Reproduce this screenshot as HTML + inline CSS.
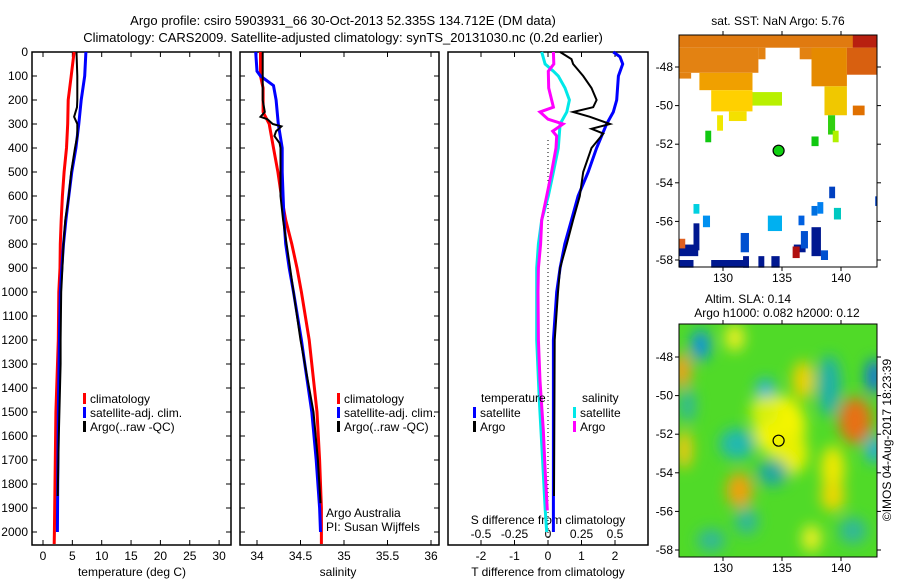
<!DOCTYPE html>
<html><head><meta charset="utf-8"><style>
html,body{margin:0;padding:0;background:#fff;}
svg{display:block;font-family:"Liberation Sans",sans-serif;}
text{font-size:12px;fill:#000;}
</style></head><body>
<svg id="fig" width="900" height="580" viewBox="0 0 900 580">
<text x="343" y="25" text-anchor="middle" style="font-size:13px">Argo profile: csiro 5903931_66 30-Oct-2013 52.335S 134.712E (DM data)</text>
<text x="343" y="42" text-anchor="middle" style="font-size:13px">Climatology: CARS2009. Satellite-adjusted climatology: synTS_20131030.nc (0.2d earlier)</text>
<g id="g1"></g>
<g id="g2"></g>
<g id="g3"></g>
<g id="m1"></g>
<g id="m2"></g>
<text x="778" y="25" text-anchor="middle">sat. SST: NaN Argo: 5.76</text>
<text x="748" y="303" text-anchor="middle">Altim. SLA: 0.14</text>
<text x="777" y="317" text-anchor="middle">Argo h1000: 0.082 h2000: 0.12</text>
<text transform="translate(891,440) rotate(-90)" text-anchor="middle">©IMOS 04-Aug-2017 18:23:39</text>
</svg>
<script>
// ---- data ----
const depthTicks=[0,100,200,300,400,500,600,700,800,900,1000,1100,1200,1300,1400,1500,1600,1700,1800,1900,2000];
const tempTicks=[0,5,10,15,20,25,30];
const salTicks=[34,34.5,35,35.5,36];
const tdiffTicks=[-2,-1,0,1,2];
const sdiffTicks=[-0.5,-0.25,0,0.25,0.5];
const sdiffLabels=["-0.5","-0.25","0","0.25","0.5"];
const tClimD=[0,100,200,300,400,500,600,700,800,900,1000,1200,1500,1800,2000,2050];
const tClimV=[5.3,4.8,4.3,4.2,4.0,3.6,3.3,3.1,2.95,2.9,2.7,2.6,2.2,2.05,1.95,1.9];
const tSatD=[0,100,200,300,400,500,600,700,800,900,1000,1200,1500,1800,2000];
const tSatV=[7.3,7.1,6.5,6.1,5.6,4.9,4.4,3.9,3.5,3.2,2.95,2.8,2.6,2.5,2.45];
const tArgoD=[0,100,200,230,270,300,350,400,500,600,700,800,900,1000,1200,1300,1600,1850];
const tArgoV=[5.7,5.85,5.85,5.8,5.3,5.85,5.85,5.45,4.8,4.4,3.8,3.5,3.3,3.1,3.0,3.0,2.7,2.5];
const sClimD=[0,100,150,250,300,400,500,600,700,800,900,1000,1200,1300,1500,1700,1900,2050];
const sClimV=[34.04,34.04,34.07,34.07,34.14,34.19,34.24,34.28,34.33,34.40,34.46,34.51,34.60,34.63,34.69,34.72,34.74,34.74];
const sSatD=[0,80,100,140,200,300,400,500,600,700,800,900,1000,1200,1300,1500,1700,1900,2000];
const sSatV=[33.985,34.0,34.04,34.19,34.22,34.245,34.29,34.29,34.30,34.31,34.33,34.37,34.42,34.51,34.55,34.63,34.68,34.72,34.73];
const sArgoD=[0,100,200,250,270,280,300,310,330,350,380,400,600,700,800,900,1000,1200,1500,1700,1880];
const sArgoV=[34.065,34.065,34.065,34.09,34.04,34.12,34.18,34.28,34.22,34.2,34.26,34.27,34.27,34.30,34.34,34.38,34.42,34.5,34.65,34.7,34.73];
const dTSatD=[0,20,50,100,200,250,300,350,400,500,600,700,800,900,1000,1200,2000];
const dTSatV=[1.95,2.15,2.23,2.1,2.05,1.95,1.75,1.6,1.45,1.2,0.9,0.7,0.5,0.36,0.26,0.16,0.16];
const dTArgoD=[0,30,50,100,150,200,230,250,270,300,320,340,400,500,600,700,800,900,1000,1200,1850];
const dTArgoV=[0.36,0.7,0.75,1.05,1.3,1.45,1.35,0.75,1.25,1.85,1.3,1.65,1.3,1.05,0.95,0.75,0.56,0.36,0.3,0.2,0.18];
const dSSatD=[0,50,80,100,150,200,250,300,400,500,600,700,800,900,1200,1450,1700,1900,2000];
const dSSatV=[-0.047,-0.022,0.04,0.077,0.127,0.16,0.14,0.09,0.077,0.04,0.002,-0.047,-0.072,-0.084,-0.084,-0.065,-0.04,-0.022,-0.01];
const dSArgoD=[0,50,80,150,230,250,280,300,330,350,400,500,600,700,800,900,1000,1200,1370,1575,1740,1910];
const dSArgoV=[0.04,0.043,0.002,0.005,0.04,-0.06,0.0,0.112,0.035,0.065,0.06,0.027,-0.01,-0.047,-0.055,-0.072,-0.075,-0.072,-0.06,-0.035,-0.022,-0.005];
const lonTicks=[130,135,140];
const latTicks=[-48,-50,-52,-54,-56,-58];
// SST blocks: lon0, lat0, lon1, lat1 (data), colour
const sstLon0=[126.3,126.3,126.3,128,129,130.5,129.5,132.5,137.5,141,138.6,141,128.5,137.5,138.9,139.3,126.3,127.5,126.3,129,131.7,133,134.1,136,137.5,142.9,131.5,136.6,137.5,138.3,136.4,127.5,128.3,133.8,138,139.4,139,135.9,126.3,133,136.5,140.5];
const sstLat0=[-46.34,-47.0,-48.3,-48.3,-49.2,-50.3,-50.5,-49.3,-47,-46.34,-49,-50,-51.3,-51.6,-50.5,-51.3,-57.2,-56.1,-58.0,-58.0,-57.8,-57.8,-57.8,-57.2,-56.3,-54.7,-56.6,-56.5,-55.2,-57.5,-55.7,-55.1,-55.7,-55.7,-55.0,-55.3,-54.2,-57.3,-56.9,-47.0,-47.0,-47.0];
const sstLon1=[143.05,133,127.3,132.5,132.5,132,130,135,140.5,143.05,140.5,142,129,138.1,139.5,139.8,127.9,128,127.5,132.2,132.2,133.5,134.8,137,138.3,143.05,132.2,137.2,138,138.9,136.9,128,128.9,135,138.5,140,139.5,136.5,126.8,133.6,137.5,143.05];
const sstLat1=[-47.0,-48.3,-48.6,-49.2,-50.3,-50.8,-51.3,-50.0,-49,-47.0,-50.5,-50.5,-51.9,-52.1,-51.5,-51.9,-57.8,-57.5,-58.4,-58.4,-58.4,-58.4,-58.4,-57.6,-57.8,-55.2,-57.6,-57.4,-55.7,-58.0,-56.2,-55.6,-56.3,-56.5,-55.6,-55.9,-54.8,-57.9,-57.4,-47.6,-47.6,-48.4];
const sstCol=["#e07a10","#e38212","#e38212","#f0a000","#ffd000","#f4e000","#f0e800","#b8f000","#e58a00","#b82010","#f0c800","#e07000","#10c810","#10c810","#30d010","#b0f000","#001890","#001890","#001890","#001890","#001890","#001890","#001890","#001890","#001890","#0040c0","#0050d0","#0050d0","#0070e0","#0050d0","#0060e0","#00d0e0","#0090f0","#00b0f0","#0080f0","#00c8c0","#0040c0","#b01010","#e06020","#e38212","#e38212","#d86010"];
// SLA blobs: lon, lat, rx(deg), ry(deg), colour
const slaLon=[128.1,126.5,133.6,142.8,142.8,141.2,136.8,134.8,135.8,131.2,139,134.2,127,131.4,126.7,139.3,139.3,132,129,141,131,137.5,133.5];
const slaLat=[-47.4,-48.7,-49.8,-49.0,-52.8,-51.3,-49.2,-51.6,-53,-52.5,-49.5,-54,-50.5,-54.9,-52.8,-53.8,-55.2,-56.5,-57.5,-57,-47,-57.4,-50.8];
const slaRx=[0.8,0.8,0.8,0.7,0.7,1.4,0.9,2.2,1.4,1.5,1.0,1.3,0.7,1.1,0.7,1.0,1.0,1.0,1.2,1.2,0.8,0.8,1.2];
const slaRy=[0.8,0.9,0.7,0.9,0.7,1.2,1.0,1.6,1.1,0.8,1.6,0.7,0.9,0.9,1.0,1.2,0.8,0.7,0.6,0.7,0.7,0.7,0.8];
const slaCol=["#1090e0","#f0a020","#20b0e0","#1070e0","#20a8e8","#e87018","#f0d000","#f4f400","#e8f000","#20b8b0","#20b0a8","#20a8a0","#30b898","#f0a010","#f0c810","#f0e800","#f0d800","#30b898","#30b898","#30b898","#f0f020","#f0f020","#d8f010"];

const NS="http://www.w3.org/2000/svg";
function mk(parent,tag,attrs){const e=document.createElementNS(NS,tag);for(const k in attrs)e.setAttribute(k,attrs[k]);parent.appendChild(e);return e;}
const yD=d=>52+0.24*d;
const xT=t=>43+5.87*t;
const xS=s=>257+87*(s-34);
const xDT=t=>548+33.5*t;
const xDS=s=>548+134*s;

function frame(g,x0,x1,name){
  const r=mk(g,'rect',{x:x0,y:52,width:x1-x0,height:493,fill:'none',stroke:'#000','stroke-width':1.5});
  
  
}
function line(g,D,V,fx,col,w,name){
  const pts=D.map((d,i)=>fx(V[i]).toFixed(1)+','+yD(d).toFixed(1)).join(' ');
  const p=mk(g,'polyline',{points:pts,fill:'none',stroke:col,'stroke-width':w,'stroke-linejoin':'miter'});
  
  
}
function txt(g,x,y,s,anchor,name){
  const t=mk(g,'text',{x:x,y:y,'text-anchor':anchor||'start'});t.textContent=s;
  
  
  return t;
}
const g1=document.getElementById('g1'),g2=document.getElementById('g2'),g3=document.getElementById('g3');
depthTicks.forEach(d=>{
  const y=yD(d);
  txt(g1,28,y+4,String(d),'end','depth-tick-label');
  [[32,37],[226,231],[240,245],[434,439]].forEach(p=>mk(g1,'line',{x1:p[0],x2:p[1],y1:y,y2:y,stroke:'#000'}));
});
frame(g1,32,231,'temperature-plot-frame');
frame(g2,240,439,'salinity-plot-frame');
frame(g3,448,648,'difference-plot-frame');
tempTicks.forEach(v=>{const x=xT(v);mk(g1,'line',{x1:x,x2:x,y1:540,y2:545,stroke:'#000'});mk(g1,'line',{x1:x,x2:x,y1:52,y2:57,stroke:'#000'});txt(g1,x,560,String(v),'middle','temperature-tick-label');});
salTicks.forEach(v=>{const x=xS(v);mk(g2,'line',{x1:x,x2:x,y1:540,y2:545,stroke:'#000'});mk(g2,'line',{x1:x,x2:x,y1:52,y2:57,stroke:'#000'});txt(g2,x,560,String(v),'middle','salinity-tick-label');});
tdiffTicks.forEach(v=>{const x=xDT(v);mk(g3,'line',{x1:x,x2:x,y1:540,y2:545,stroke:'#000'});txt(g3,x,560,String(v),'middle','tdiff-tick-label');});
sdiffTicks.forEach((v,i)=>{const x=xDS(v);mk(g3,'line',{x1:x,x2:x,y1:52,y2:57,stroke:'#000'});txt(g3,x,538,sdiffLabels[i],'middle','sdiff-tick-label');});
txt(g1,132,576,'temperature (deg C)','middle','temperature-axis-title');
txt(g2,338,576,'salinity','middle','salinity-axis-title');
txt(g3,548,576,'T difference from climatology','middle','tdiff-axis-title');
txt(g3,548,524,'S difference from climatology','middle','sdiff-axis-title');
mk(g3,'line',{x1:548,x2:548,y1:140,y2:540,stroke:'#000','stroke-dasharray':'1,3'});
line(g1,tClimD,tClimV,xT,'#ff0000',3,'temp-climatology-line');
line(g1,tSatD,tSatV,xT,'#0000ff',3,'temp-satellite-line');
line(g1,tArgoD,tArgoV,xT,'#000000',2,'temp-argo-line');
line(g2,sClimD,sClimV,xS,'#ff0000',3,'sal-climatology-line');
line(g2,sSatD,sSatV,xS,'#0000ff',3,'sal-satellite-line');
line(g2,sArgoD,sArgoV,xS,'#000000',2,'sal-argo-line');
line(g3,dTSatD,dTSatV,xDT,'#0000ff',3,'tdiff-satellite-line');
line(g3,dTArgoD,dTArgoV,xDT,'#000000',2,'tdiff-argo-line');
line(g3,dSSatD,dSSatV,xDS,'#00e8e8',3,'sdiff-satellite-line');
line(g3,dSArgoD,dSArgoV,xDS,'#ff00ff',3,'sdiff-argo-line');
function leg(g,x,y,col,label,name){
  const r=mk(g,'rect',{x:x,y:y-9,width:3,height:11,fill:col});
  
  
  txt(g,x+7,y+1,label,'start',name);
}
[[g1,83],[g2,337]].forEach(([g,x])=>{
  leg(g,x,402,'#ff0000','climatology','legend-climatology');
  leg(g,x,416,'#0000ff','satellite-adj. clim.','legend-satellite-adj');
  leg(g,x,430,'#000000','Argo(..raw -QC)','legend-argo');
});
txt(g3,481,402,'temperature','start','legend-temperature-heading');
txt(g3,582,402,'salinity','start','legend-salinity-heading');
leg(g3,473,416,'#0000ff','satellite','legend-tdiff-satellite');
leg(g3,473,430,'#000000','Argo','legend-tdiff-argo');
leg(g3,573,416,'#00e8e8','satellite','legend-sdiff-satellite');
leg(g3,573,430,'#ff00ff','Argo','legend-sdiff-argo');
txt(g2,326,517,'Argo Australia','start','credit-argo-australia');
txt(g2,326,531,'PI: Susan Wijffels','start','credit-pi');

const mx=l=>723+11.8*(l-130);
function mapAxes(g,top,bottom,yLat){
  mk(g,'rect',{x:679,y:top,width:198,height:bottom-top,fill:'none',stroke:'#000'});
  lonTicks.forEach(l=>{const x=mx(l);mk(g,'line',{x1:x,x2:x,y1:top-4,y2:top,stroke:'#000'});mk(g,'line',{x1:x,x2:x,y1:bottom,y2:bottom+4,stroke:'#000'});txt(g,x,bottom+15,String(l),'middle','map-lon-label');});
  latTicks.forEach(l=>{const y=yLat(l);mk(g,'line',{x1:675,x2:679,y1:y,y2:y,stroke:'#000'});mk(g,'line',{x1:877,x2:881,y1:y,y2:y,stroke:'#000'});txt(g,673,y+4,String(l),'end','map-lat-label');});
}
const m1=document.getElementById('m1'),m2=document.getElementById('m2');
const y1Lat=l=>67+19.3*(-48-l);
const y2Lat=l=>357+19.3*(-48-l);
mk(m1,'rect',{x:679,y:35,width:198,height:232,fill:'#fff'});
sstLon0.forEach((l,i)=>{
  const x0=mx(l),x1=mx(sstLon1[i]),ya=y1Lat(sstLat0[i]),yb=y1Lat(sstLat1[i]);
  const r=mk(m1,'rect',{x:x0,y:ya,width:x1-x0,height:yb-ya,fill:sstCol[i]});
  
  
});
const pos1=mk(m1,'circle',{cx:mx(134.712),cy:y1Lat(-52.335),r:5.5,fill:'#10d010',stroke:'#000','stroke-width':1.2});


mapAxes(m1,35,267,y1Lat);

const defs=mk(m2,'defs',{});
const f=mk(defs,'filter',{id:'blur',x:'-50%',y:'-50%',width:'200%',height:'200%'});
mk(f,'feGaussianBlur',{stdDeviation:7});
const cp=mk(defs,'clipPath',{id:'clip2'});
mk(cp,'rect',{x:679,y:324,width:198,height:233});
const gm=mk(m2,'g',{'clip-path':'url(#clip2)'});
mk(gm,'rect',{x:679,y:324,width:198,height:233,fill:'#50da28'});
const gb=mk(gm,'g',{filter:'url(#blur)'});
slaLon.forEach((l,i)=>{
  const e=mk(gb,'ellipse',{cx:mx(l),cy:y2Lat(slaLat[i]),rx:slaRx[i]*11.8,ry:slaRy[i]*19.3,fill:slaCol[i]});
  
  
});
const pos2=mk(m2,'circle',{cx:mx(134.712),cy:y2Lat(-52.335),r:5.5,fill:'none',stroke:'#000','stroke-width':1.2});


mapAxes(m2,324,557,y2Lat);
</script>
</body></html>
